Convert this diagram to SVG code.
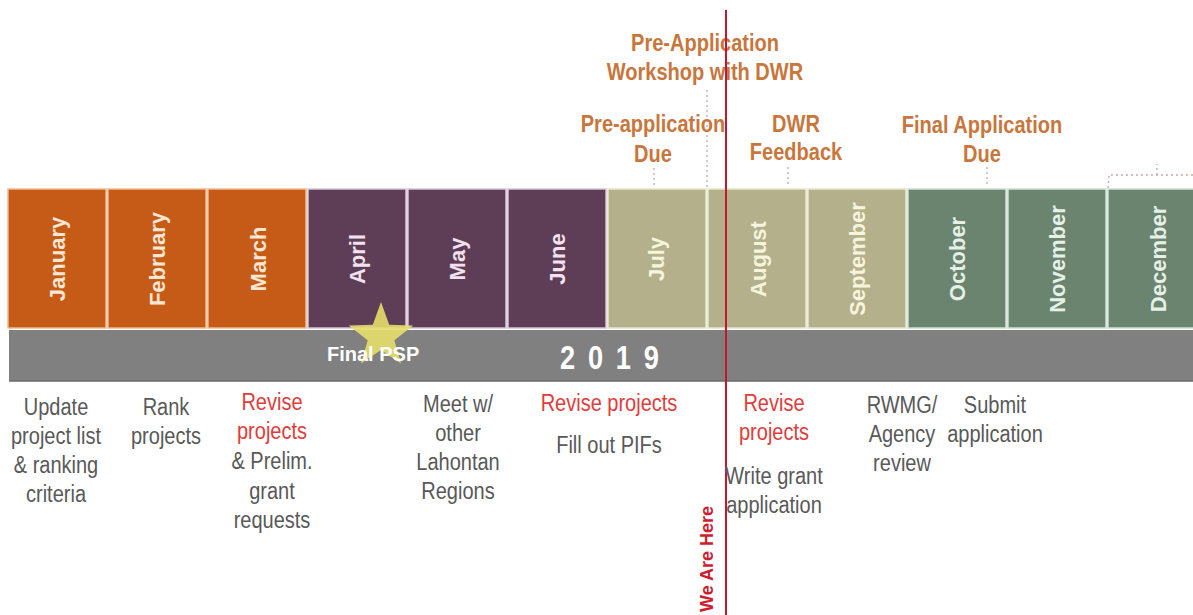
<svg xmlns="http://www.w3.org/2000/svg" width="1193" height="615" viewBox="0 0 1193 615">
<style>
.box{stroke-width:1.5}
.or{fill:#c55b17;stroke:#f0b98f}
.pu{fill:#5e3d56;stroke:#d9c2d6}
.kh{fill:#b3b08b;stroke:#e8e6cc}
.gr{fill:#6a8470;stroke:#cfe0d2}
.m{font-family:"Liberation Sans",Arial,sans-serif;font-weight:bold;font-size:22px;text-anchor:middle}
.mo{fill:#fde6d4}.mp{fill:#f1e2ee}.mk{fill:#f6f4dc}.mg{fill:#e6f0e7}
.top{font-family:"Liberation Sans",Arial,sans-serif;font-weight:bold;font-size:23px;fill:#c8763c;text-anchor:middle}
.t{font-family:"Liberation Sans",Arial,sans-serif;font-size:23px;fill:#595959;text-anchor:middle}
.r{fill:#e03c3c}
.dot{fill:none;stroke:#c9a7a7;stroke-width:1.3;stroke-dasharray:2 3}
</style>
<rect width="1193" height="615" fill="#ffffff"/>

<g id="months">
<g id="m-jan"><rect class="box or" x="8" y="189" width="98" height="139"/><text class="m mo" transform="translate(65,259) rotate(-90)">January</text></g>
<g id="m-feb"><rect class="box or" x="108" y="189" width="98" height="139"/><text class="m mo" transform="translate(165,259) rotate(-90)">February</text></g>
<g id="m-mar"><rect class="box or" x="208" y="189" width="98" height="139"/><text class="m mo" transform="translate(266,259) rotate(-90)">March</text></g>
<g id="m-apr"><rect class="box pu" x="308" y="189" width="98" height="139"/><text class="m mp" transform="translate(365,259) rotate(-90)">April</text></g>
<g id="m-may"><rect class="box pu" x="408" y="189" width="98" height="139"/><text class="m mp" transform="translate(465,259) rotate(-90)">May</text></g>
<g id="m-jun"><rect class="box pu" x="508" y="189" width="98" height="139"/><text class="m mp" transform="translate(565,259) rotate(-90)">June</text></g>
<g id="m-jul"><rect class="box kh" x="608" y="189" width="98" height="139"/><text class="m mk" transform="translate(664,259) rotate(-90)">July</text></g>
<g id="m-aug"><rect class="box kh" x="708" y="189" width="98" height="139"/><text class="m mk" transform="translate(766,259) rotate(-90)">August</text></g>
<g id="m-sep"><rect class="box kh" x="808" y="189" width="98" height="139"/><text class="m mk" transform="translate(865,259) rotate(-90)">September</text></g>
<g id="m-oct"><rect class="box gr" x="908" y="189" width="98" height="139"/><text class="m mg" transform="translate(965,259) rotate(-90)">October</text></g>
<g id="m-nov"><rect class="box gr" x="1008" y="189" width="98" height="139"/><text class="m mg" transform="translate(1065,259) rotate(-90)">November</text></g>
<g id="m-dec"><rect class="box gr" x="1108" y="189" width="98" height="139"/><text class="m mg" transform="translate(1166,259) rotate(-90)">December</text></g>
</g>

<g id="yearbar">
<rect x="9" y="330" width="1184" height="51" fill="#808080"/>
<line x1="9" y1="381" x2="1193" y2="381" stroke="#6a6a6a" stroke-width="1.5"/>
<path d="M381,302 L389.2,324.7 L413.3,325.5 L394.3,340.3 L401,363.5 L381,350 L361,363.5 L367.7,340.3 L348.7,325.5 L372.8,324.7 Z" fill="#e6de6c" fill-opacity="0.9"/>
<text x="327" y="361" font-family="Liberation Sans,Arial,sans-serif" font-weight="bold" font-size="20" fill="#ffffff">Final PSP</text>
<text transform="translate(560,369) scale(0.8,1)" font-family="Liberation Sans,Arial,sans-serif" font-weight="bold" font-size="34" letter-spacing="16" fill="#ffffff">2019</text>
</g>

<g id="connectors">
<line class="dot" x1="654" y1="168" x2="654" y2="188"/>
<line class="dot" x1="707" y1="90" x2="707" y2="188"/>
<line class="dot" x1="788" y1="167" x2="788" y2="187"/>
<line class="dot" x1="987" y1="167" x2="987" y2="187"/>
<path class="dot" d="M1108,188 L1109,175 L1193,175 M1157,175 L1157,164"/>
</g>

<g id="top-workshop" transform="translate(705,0) scale(0.87,1)"><text class="top" x="0" y="51">Pre-Application</text><text class="top" x="0" y="80">Workshop with DWR</text></g>
<g id="top-preapp" transform="translate(653,0) scale(0.87,1)"><text class="top" x="0" y="132">Pre-application</text><text class="top" x="0" y="162">Due</text></g>
<g id="top-dwr" transform="translate(796,0) scale(0.87,1)"><text class="top" x="0" y="132">DWR</text><text class="top" x="0" y="160">Feedback</text></g>
<g id="top-final" transform="translate(982,0) scale(0.87,1)"><text class="top" x="0" y="133">Final Application</text><text class="top" x="0" y="162">Due</text></g>

<g id="herel">
<line x1="726" y1="10" x2="726" y2="615" stroke="#c3162f" stroke-width="2"/>
<text transform="translate(713,612) rotate(-90)" font-family="Liberation Sans,Arial,sans-serif" font-weight="bold" font-size="18" fill="#d01c2c">We Are Here</text>
</g>

<g id="t-jan" transform="translate(56,0) scale(0.87,1)"><text class="t" x="0" y="415">Update</text><text class="t" x="0" y="444">project list</text><text class="t" x="0" y="473">&amp; ranking</text><text class="t" x="0" y="502">criteria</text></g>
<g id="t-feb" transform="translate(166,0) scale(0.87,1)"><text class="t" x="0" y="415">Rank</text><text class="t" x="0" y="444">projects</text></g>
<g id="t-mar" transform="translate(272,0) scale(0.87,1)"><text class="t r" x="0" y="410">Revise</text><text class="t r" x="0" y="439">projects</text><text class="t" x="0" y="469">&amp; Prelim.</text><text class="t" x="0" y="499">grant</text><text class="t" x="0" y="528">requests</text></g>
<g id="t-may" transform="translate(458,0) scale(0.87,1)"><text class="t" x="0" y="412">Meet w/</text><text class="t" x="0" y="441">other</text><text class="t" x="0" y="470">Lahontan</text><text class="t" x="0" y="499">Regions</text></g>
<g id="t-jun" transform="translate(609,0) scale(0.87,1)"><text class="t r" x="0" y="411">Revise projects</text><text class="t" x="0" y="453">Fill out PIFs</text></g>
<g id="t-aug" transform="translate(774,0) scale(0.87,1)"><text class="t r" x="0" y="411">Revise</text><text class="t r" x="0" y="440">projects</text><text class="t" x="0" y="484">Write grant</text><text class="t" x="0" y="513">application</text></g>
<g id="t-sep" transform="translate(902,0) scale(0.87,1)"><text class="t" x="0" y="413">RWMG/</text><text class="t" x="0" y="442">Agency</text><text class="t" x="0" y="471">review</text></g>
<g id="t-oct" transform="translate(995,0) scale(0.87,1)"><text class="t" x="0" y="413">Submit</text><text class="t" x="0" y="442">application</text></g>
</svg>
